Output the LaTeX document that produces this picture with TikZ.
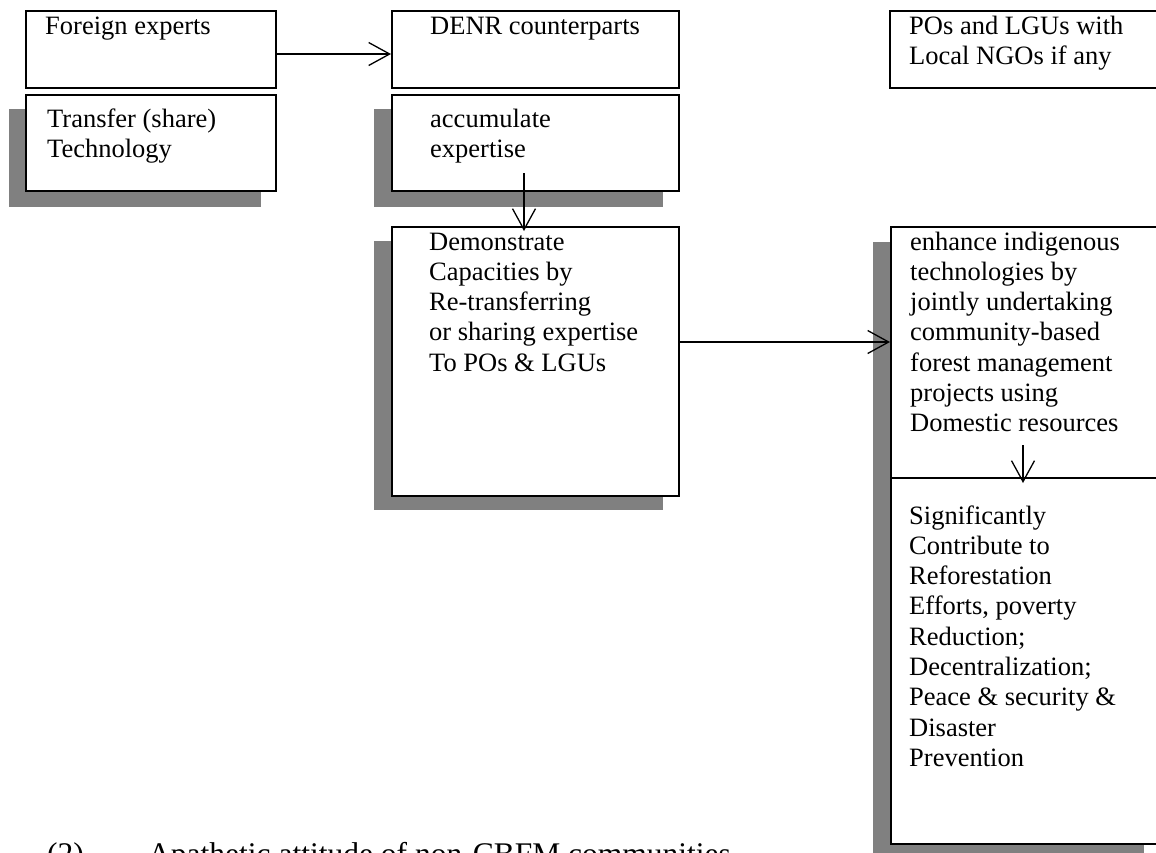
\documentclass[tikz,border=0pt]{standalone}
\usepackage{fontspec}
\setmainfont{Liberation Serif}
\usetikzlibrary{arrows.meta,calc}
\tikzset{
  box/.style={draw=black, line width=1.5pt, fill=white, rectangle, inner sep=0pt, anchor=north west},
  shadowbox/.style={fill=shadowgray, draw=none},
  txt/.style={font=\fontsize{26.5}{30.3}\selectfont, inner sep=0pt, anchor=base west, align=left},
  bigtxt/.style={font=\fontsize{31.5}{36}\selectfont, inner sep=0pt, anchor=base west},
  arr/.style={line width=1.3pt, -{Straight Barb[length=21pt,width=23pt,line width=1.3pt]}},
}
\definecolor{shadowgray}{HTML}{808080}
\begin{document}
\begin{tikzpicture}[x=1pt,y=-1pt]
\useasboundingbox (0,0) rectangle (1156,852);
% shadows
\fill[shadowbox] (9,109) rectangle (261,207);
\fill[shadowbox] (374,109) rectangle (663,207);
\fill[shadowbox] (374,241) rectangle (663,510);
\fill[shadowbox] (873,242) rectangle (1144,870);
% boxes
\node[box, minimum width=250pt, minimum height=77pt] (fe) at (25,10) {};
\node[box, minimum width=250pt, minimum height=96pt] (tt) at (25,94) {};
\node[box, minimum width=287pt, minimum height=77pt] (denr) at (391,10) {};
\node[box, minimum width=287pt, minimum height=96pt] (acc) at (391,94) {};
\node[box, minimum width=287pt, minimum height=269pt] (dem) at (391,226) {};
\node[box, minimum width=290pt, minimum height=77pt] (po) at (889,10) {};
\node[box, minimum width=290pt, minimum height=251pt] (enh) at (890,226) {};
\node[box, minimum width=290pt, minimum height=366pt] (sig) at (890,477) {};
% texts (anchored at the baseline of their last line)
\node[txt] (tfe) at (45,34) {Foreign experts};
\node[txt] (ttt) at (47,157.3) {Transfer (share)\\Technology};
\node[txt] (tdenr) at (430,34) {DENR counterparts};
\node[txt] (tacc) at (430,157.3) {accumulate\\expertise};
\node[txt] (tpo) at (909,64.3) {POs and LGUs with\\Local NGOs if any};
\node[txt] (tdem) at (429,371.2) {Demonstrate\\Capacities by\\Re-transferring\\or sharing expertise\\To POs \& LGUs};
\node[txt] (tenh) at (910,431.8) {enhance indigenous\\technologies by\\jointly undertaking\\community-based\\forest management\\projects using\\Domestic resources};
\node[txt] (tsig) at (909,766.4) {Significantly\\Contribute to\\Reforestation\\Efforts, poverty\\Reduction;\\Decentralization;\\Peace \& security \&\\Disaster\\Prevention};
\node[bigtxt] (num) at (47,864) {(2)};
\node[bigtxt] (apa) at (148,864) {Apathetic attitude of non-CBFM communities};
% connectors
\draw[arr] (fe.east |- 0,54) -- (denr.west |- 0,54);
\coordinate (accs) at (524,173);
\draw[arr, shorten >=-5pt] (accs) -- (accs |- dem.north);
\draw[arr] (dem.east |- 0,342) -- (enh.west |- 0,342);
\coordinate (enhs) at (1023,445);
\draw[arr, shorten >=-6pt] (enhs) -- (enhs |- sig.north);
\end{tikzpicture}
\end{document}
